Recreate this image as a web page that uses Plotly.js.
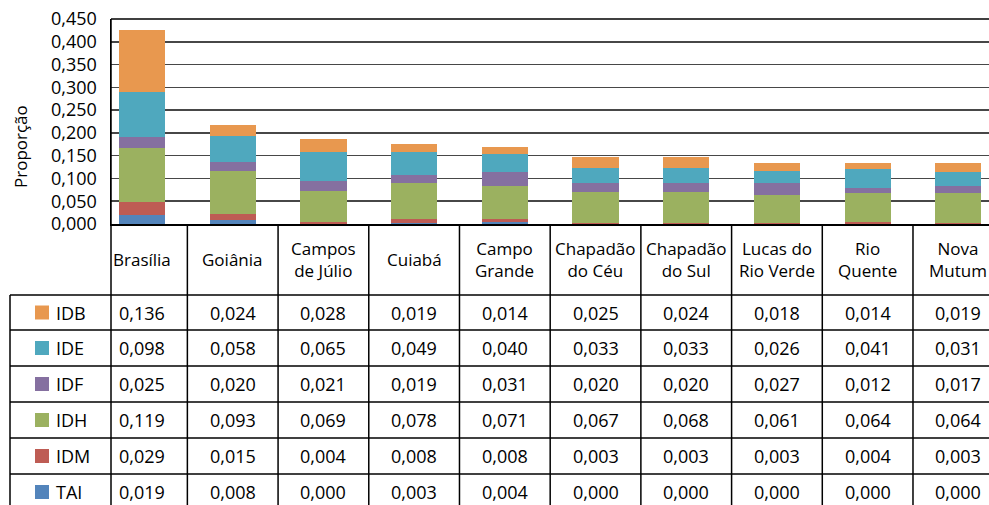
<!DOCTYPE html>
<html>
<head>
<meta charset="utf-8">
<script src="https://cdn.plot.ly/plotly-3.0.1.min.js"></script>
<style>html,body{margin:0;padding:0;background:#fff;}#chart{width:989px;height:505px;}</style>
</head>
<body>
<div id="chart"></div>
<script>
// ---- data ----
const categories = ['Brasília','Goiânia','Campos de Júlio','Cuiabá','Campo Grande','Chapadão do Céu','Chapadão do Sul','Lucas do Rio Verde','Rio Quente','Nova Mutum'];
const headerLabels = ['Brasília','Goiânia','Campos<br>de Júlio','Cuiabá','Campo<br>Grande','Chapadão<br>do Céu','Chapadão<br>do Sul','Lucas do<br>Rio Verde','Rio<br>Quente','Nova<br>Mutum'];
const IDB = [0.136,0.024,0.028,0.019,0.014,0.025,0.024,0.018,0.014,0.019];
const IDE = [0.098,0.058,0.065,0.049,0.040,0.033,0.033,0.026,0.041,0.031];
const IDF = [0.025,0.020,0.021,0.019,0.031,0.020,0.020,0.027,0.012,0.017];
const IDH = [0.119,0.093,0.069,0.078,0.071,0.067,0.068,0.061,0.064,0.064];
const IDM = [0.029,0.015,0.004,0.008,0.008,0.003,0.003,0.003,0.004,0.003];
const TAI = [0.019,0.008,0.000,0.003,0.004,0.000,0.000,0.000,0.000,0.000];
const yTicks = [0,0.05,0.1,0.15,0.2,0.25,0.3,0.35,0.4,0.45];

// ---- styles ----
const colors = {IDB:'#E8984F', IDE:'#4FA8BE', IDF:'#8570A0', IDH:'#9BB160', IDM:'#BE5C54', TAI:'#5384BB'};
const series = {IDB, IDE, IDF, IDH, IDM, TAI};
const stackOrder = ['TAI','IDM','IDH','IDF','IDE','IDB'];
const tableOrder = ['IDB','IDE','IDF','IDH','IDM','TAI'];
const FONT = '"Open Sans", "Noto Sans", sans-serif';
const FS = 18;

const W = 989, H = 505, L = 111, T = 19, PB = 224;
const plotW = W - L, plotH = PB - T;
const py = p => (PB - p) / plotH;   // pixel y -> paper y
const pxp = p => (p - L) / plotW;   // pixel x -> paper x

const traces = stackOrder.map(k => ({
  type:'bar', name:k, x:categories, y:series[k],
  marker:{color:colors[k], line:{width:0}},
  hoverinfo:'x+y+name'
}));

const fmt = v => v.toFixed(3).replace('.', ',');

const rowLines = [295, 330, 366, 402, 438, 474];
const rowCenters = [312.5, 348, 384, 420, 456, 492];

const shapes = [];
const annotations = [];
const lineStyle = {color:'#000', width:1.5};

// horizontal table lines
rowLines.forEach(p => shapes.push({type:'line', xref:'paper', yref:'paper', x0:pxp(10), x1:1.02, y0:py(p), y1:py(p), line:lineStyle}));
// left border of legend column
shapes.push({type:'line', xref:'paper', yref:'paper', x0:pxp(10), x1:pxp(10), y0:py(295), y1:py(520), line:lineStyle});
// y axis extension through table
shapes.push({type:'line', xref:'paper', yref:'paper', x0:0, x1:0, y0:1, y1:py(520), line:lineStyle});
// column separators
for (let i = 0; i < categories.length - 1; i++) {
  shapes.push({type:'line', xref:'x', yref:'paper', x0:i+0.5, x1:i+0.5, y0:0, y1:py(520), line:lineStyle});
}
// top frame line
shapes.push({type:'line', xref:'paper', yref:'paper', x0:0, x1:1.02, y0:1, y1:1, line:{color:'#000', width:1.5}});

// header labels
categories.forEach((c, i) => annotations.push({
  xref:'x', yref:'paper', x:i, y:py(259.5), text:headerLabels[i], showarrow:false,
  xanchor:'center', yanchor:'middle', font:{family:FONT, size:17, color:'#000'}
}));

// table rows
tableOrder.forEach((k, r) => {
  const yc = rowCenters[r];
  shapes.push({type:'rect', xref:'paper', yref:'paper', x0:pxp(35), x1:pxp(49), y0:py(yc-7), y1:py(yc+7), fillcolor:colors[k], line:{width:0}});
  annotations.push({xref:'paper', yref:'paper', x:pxp(54), y:py(yc), text:k, showarrow:false, xanchor:'left', yanchor:'middle', font:{family:FONT, size:FS, color:'#000'}});
  series[k].forEach((v, i) => annotations.push({
    xref:'x', yref:'paper', x:i, y:py(yc), text:fmt(v), showarrow:false,
    xanchor:'center', yanchor:'middle', font:{family:FONT, size:FS, color:'#000'}
  }));
});

// y-axis title
annotations.push({xref:'paper', yref:'paper', x:pxp(20), y:py(147), text:'Proporção', textangle:-90, showarrow:false, xanchor:'center', yanchor:'middle', font:{family:FONT, size:17, color:'#000'}});

const layout = {
  width:W, height:H,
  margin:{l:L, r:0, t:T, b:H-PB, pad:0},
  paper_bgcolor:'#fff', plot_bgcolor:'#fff',
  barmode:'stack', bargap:0.49,
  showlegend:false,
  separators:',.',
  font:{family:FONT, size:FS, color:'#000'},
  xaxis:{type:'category', range:[-0.342, 9.338], showticklabels:false, ticks:'', showgrid:false, zeroline:false, showline:true, linecolor:'#000', linewidth:1.5, fixedrange:true},
  yaxis:{range:[0,0.45], tickvals:yTicks, tickformat:'.3f', showgrid:true, gridcolor:'#474747', gridwidth:1.6, zeroline:false, showline:true, linecolor:'#000', linewidth:1.5, ticks:'', ticklabelstandoff:9, tickfont:{family:FONT, size:FS, color:'#000'}, fixedrange:true},
  shapes, annotations
};

Plotly.newPlot('chart', traces, layout, {displayModeBar:false, staticPlot:true});
</script>
</body>
</html>
